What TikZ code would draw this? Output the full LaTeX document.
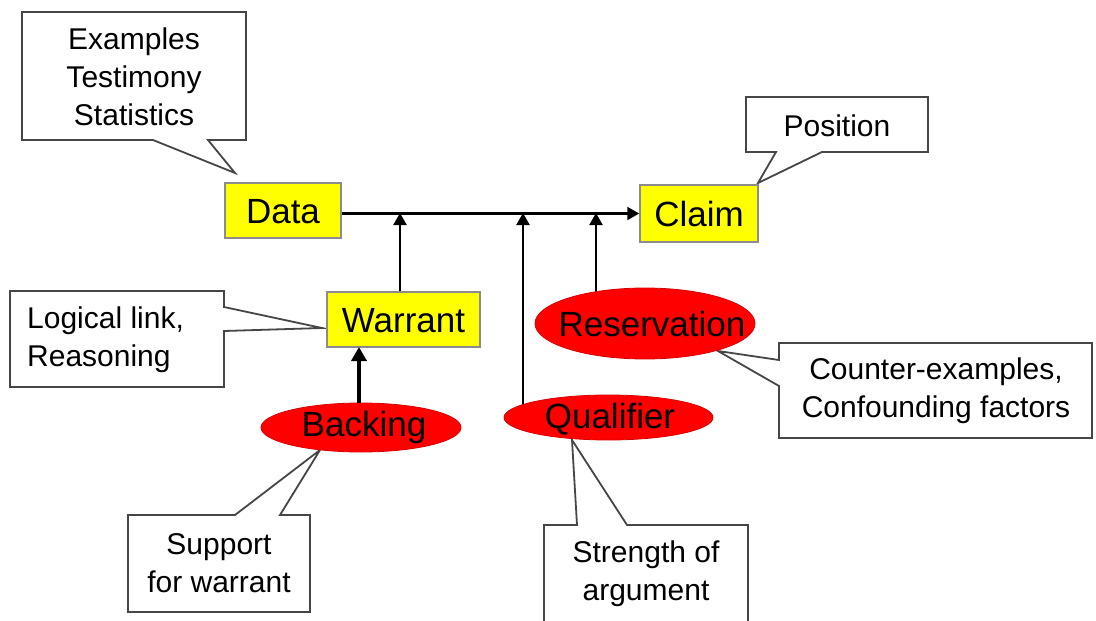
\documentclass[tikz,border=0pt]{standalone}
\usepackage{fontspec}
\setmainfont{Liberation Sans}
\usetikzlibrary{arrows.meta,shapes.geometric}
\pgfdeclarelayer{backdrop}
\pgfdeclarelayer{background}
\pgfsetlayers{backdrop,background,main}
\definecolor{boxyellow}{RGB}{255,255,0}
\definecolor{ellred}{RGB}{255,0,0}
\definecolor{calloutline}{RGB}{70,70,70}
\definecolor{boxline}{RGB}{140,140,140}
\tikzset{
  ybox/.style={draw=boxline, line width=1.5pt, fill=boxyellow, inner sep=0pt},
  redell/.style={ellipse, draw=ellred!85!black, line width=0.8pt, fill=ellred, inner sep=0pt},
  lbl/.style={font=\fontsize{35}{42}\selectfont, inner sep=0pt, text height=25pt, text depth=0pt},
  callout/.style={draw=calloutline, line width=1.8pt, fill=white, line join=miter},
  ctext/.style={font=\fontsize{30}{38}\selectfont, inner sep=0pt, align=center},
  conn/.style={draw=black, line width=2.2pt, -{Triangle[length=12pt,width=13pt]}},
  thickconn/.style={draw=black, line width=4pt, -{Triangle[length=14pt,width=15pt]}}
}
\begin{document}
\begin{tikzpicture}[x=1pt,y=-1pt]
\begin{pgfonlayer}{backdrop}
\fill[white] (0,0) rectangle (1096,621);
\end{pgfonlayer}
\clip (0,0) rectangle (1096,621);

% callout shapes
\draw[callout] (22,12) -- (246,12) -- (246,140) -- (208,140) -- (235,173) -- (153,140) -- (22,140) -- cycle;
\draw[callout] (746,97) -- (928,97) -- (928,152) -- (822,152) -- (758,183) -- (776,152) -- (746,152) -- cycle;
\draw[callout] (10,291) -- (224,291) -- (224,307) -- (322,328) -- (224,331) -- (224,387) -- (10,387) -- cycle;
\draw[callout] (128,515) -- (235,515) -- (320,450) -- (280,515) -- (310,515) -- (310,612) -- (128,612) -- cycle;
\draw[callout] (779,343) -- (1092,343) -- (1092,438) -- (779,438) -- (779,386) -- (718,351) -- (779,360) -- cycle;
\draw[callout] (544,525) -- (577,525) -- (572,440) -- (627,525) -- (748,525) -- (748,640) -- (544,640) -- cycle;

% callout texts
\node[ctext] (examplestext) at (134,77) {Examples\\Testimony\\Statistics};
\node[ctext] (positiontext) at (837,126) {Position};
\node[ctext, align=left, anchor=west] (logicaltext) at (27,340) {Logical link,\\Reasoning};
\node[ctext] (supporttext) at (219,563) {Support\\for warrant};
\node[ctext] (countertext) at (936,391) {Counter-examples,\\Confounding factors};
\node[ctext] (strengthtext) at (646,574) {Strength of\\argument};

% main nodes
\node[ybox, minimum width=116pt, minimum height=55pt] (data) at (283,210.5) {};
\node[lbl] (datatext) at (data.center) {Data};
\node[ybox, minimum width=118pt, minimum height=57pt] (claim) at (699,213.5) {};
\node[lbl] (claimtext) at (claim.center) {Claim};
\node[ybox, minimum width=153pt, minimum height=55pt] (warrant) at (403.5,319.5) {};
\node[lbl] (warranttext) at (warrant.center) {Warrant};
\node[redell, minimum width=200pt, minimum height=49pt] (backing) at (361,427.5) {};
\node[lbl] (backingtext) at (364,424) {Backing};
\node[redell, minimum width=209pt, minimum height=45pt] (qualifier) at (608.5,417.5) {};
\node[lbl] (qualifiertext) at (610,416) {Qualifier};
\node[redell, minimum width=220pt, minimum height=71pt] (reservation) at (645,323.5) {};
\node[lbl] (reservationtext) at (652,323.5) {Reservation};

% junctions on the main line
\coordinate (jw) at (400,213);
\coordinate (jq) at (523,213);
\coordinate (jr) at (596,213);

% connectors
\draw[conn] (claim.west -| data.east) -- (claim.west);
\draw[conn] (warrant.north -| jw) -- (jw);
\begin{pgfonlayer}{background}
\draw[conn] (qualifier.center -| jq) -- (jq);
\draw[conn] (reservation.center -| jr) -- (jr);
\end{pgfonlayer}
\draw[thickconn] (359,403) -- (359,347);
\end{tikzpicture}
\end{document}
